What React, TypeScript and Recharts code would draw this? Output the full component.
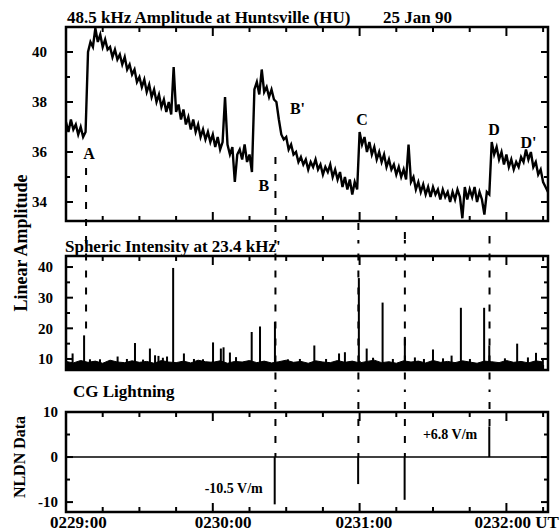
import {
  Area,
  Bar,
  ComposedChart,
  LabelList,
  Line,
  ReferenceArea,
  ReferenceDot,
  ReferenceLine,
  XAxis,
  YAxis
} from "recharts";

const SERIF = '"Liberation Serif", "Times New Roman", Times, serif';
const INK = "#000";
const SPAN: [number, number] = [0, 197];
const frame = { stroke: INK, strokeWidth: 2 };

// 48.5 kHz amplitude, one reading per second from 0229:00
const ampValues = [
  37.2, 36.8, 37.3, 36.9, 37.1, 36.7, 37.0, 36.6, 36.8, 40.0,
  40.4, 40.2, 40.95, 40.4, 40.7, 40.2, 40.5, 40.1, 40.2, 39.8,
  40.1, 39.7, 39.9, 39.5, 39.8, 39.3, 39.5, 39.1, 39.3, 38.8,
  39.0, 38.6, 38.9, 38.4, 38.7, 38.2, 38.5, 38.0, 38.3, 37.8,
  38.1, 37.6, 38.0, 37.5, 39.4, 37.6, 37.9, 37.3, 37.7, 37.1,
  37.4, 36.9, 37.3, 36.8, 37.1, 36.6, 36.9, 36.5, 36.8, 36.4,
  36.7, 36.2, 36.6, 36.1, 36.4, 38.2, 36.3, 35.9, 36.2, 34.8,
  35.9, 36.1, 35.7, 36.3, 35.6, 35.9, 35.2, 38.5, 38.8, 38.3,
  39.3, 38.4, 38.6, 38.2, 38.5, 38.1, 38.0, 37.3, 36.7, 36.5,
  36.6, 36.1, 36.3, 35.9, 36.0, 35.6, 35.8, 35.5, 35.7, 35.3,
  35.6, 35.4, 35.7, 35.3, 35.5, 35.1, 35.4, 35.2, 35.5, 35.0,
  35.3, 34.9, 35.2, 34.6, 35.0, 34.5, 34.9, 34.3, 34.8, 34.5,
  36.8, 36.3, 36.6, 36.0, 36.4, 35.9, 36.2, 35.7, 36.0, 35.6,
  35.9, 35.4, 35.7, 35.3, 35.5, 35.1, 35.4, 35.0, 35.3, 34.9,
  36.3, 34.8, 35.0, 34.5, 34.8, 34.4, 34.7, 34.3, 34.6, 34.2,
  34.6, 34.3, 34.5, 34.1, 34.5, 34.2, 34.4, 34.0, 34.4, 34.1,
  34.5, 34.2, 33.35, 34.6, 34.1, 34.5, 34.2, 34.6, 34.0, 34.4,
  34.1, 33.5, 34.4, 34.3, 36.4, 35.9, 36.2, 35.7, 36.0, 35.5,
  35.9, 35.4, 35.7, 35.3, 35.6, 35.4, 35.8, 35.6, 36.1, 35.7,
  36.0, 35.4, 35.6, 35.1, 35.3, 34.8, 34.6, 34.4
];
const ampRows = ampValues.map((v, i) => ({ t: i, v }));

// spheric intensity at 23.4 kHz: isolated spikes plus the noise floor (every 3 s)
const spikeTimes = [
  2.7, 7.4, 9.8, 13.9, 21.1, 24.9, 28.2, 31.5, 34.3, 36.4, 37.8, 39.6, 41.3, 43.8,
  48.2, 52.3, 56, 60.1, 63.3, 64.4, 67, 69.5, 75.9, 79.3, 85.4, 90.7, 95.6, 101.5,
  106.3, 111.6, 114, 119.7, 122.9, 125.5, 129.4, 133.6, 138.5, 142.6, 146.3,
  150, 154.1, 157.6, 161.4, 165.1, 170.9, 173, 179.4, 184.4, 188.8, 192.1, 194.9
];
const spikeValues = [
  11.8, 17.7, 9.9, 9.9, 10.8, 10.0, 15.2, 9.8, 13.4, 11.2, 11.0, 10.4, 10.8, 39.7,
  11.8, 10.0, 9.9, 15.4, 13.4, 13.8, 12.1, 10.6, 18.8, 20.6, 22.1, 9.9, 10.0, 14.4,
  10.0, 11.8, 12.2, 36.4, 13.4, 10.4, 28.4, 10.0, 17.2, 10.5, 10.0,
  13.1, 10.2, 11.1, 26.7, 10.0, 26.7, 14.4, 10.2, 15.0, 10.5, 12.0, 10.2
];
const floorValues = [
  9.2, 8.7, 9.5, 8.9, 9.3, 8.6, 9.6, 9.0, 8.8, 9.4,
  8.9, 9.2, 8.6, 9.5, 9.0, 8.8, 9.3, 8.7, 9.6, 9.1,
  8.9, 9.4, 8.6, 9.2, 9.0, 9.5, 8.8, 9.3, 8.7, 9.1,
  9.6, 8.9, 9.2, 8.6, 9.4, 9.0, 8.8, 9.5, 8.9, 9.3,
  8.7, 9.2, 9.6, 8.8, 9.1, 8.6, 9.4, 9.0, 9.3, 8.7,
  9.5, 8.9, 9.2, 8.8, 9.4, 9.0, 8.6, 9.3, 9.1, 8.8,
  9.5, 8.9, 9.2, 8.7, 9.4, 9.0
];
const spikeRows = spikeTimes.map((t, i) => ({ t, v: spikeValues[i] }));
const floorRows = floorValues.map((v, i) => ({ t: i * 3, v }));

// NLDN cloud-to-ground flashes
const cgTimes = [85.4, 119.5, 138.5, 173.1];
const cgValues = [-10.5, -6.0, -9.5, 6.8];
const cgNotes = ["-10.5 V/m", "", "", "+6.8 V/m"];
const cgRows = cgTimes.map((t, i) => ({ t, v: cgValues[i], note: cgNotes[i] }));

// event letters on the amplitude trace
const letters = ["A", "B", "B'", "C", "D", "D'"];
const letterTimes = [9.4, 80.9, 94.6, 121, 174.9, 189];
const letterLevels = [35.96, 34.68, 37.76, 37.32, 36.92, 36.4];

// dashed markers carried down through the three panels
const markTimes = [8.2, 85.6, 119.5, 138.5, 173.1];
const markTopFrom = [35.36, 35.8, 33.16, 32.8, 32.64];
const markMidTo = [17.7, -5, -5, -5, -5];
const markLowTo = [null, 0, 0, 0, 6.8];

const xTicks = [0, 15, 30, 45, 60, 75, 90, 105, 120, 135, 150, 165, 180, 195];
const clockLabels: Record<number, string> = {
  0: "0229:00",
  60: "0230:00",
  120: "0231:00",
  180: "0232:00 UT"
};
const clockShift: Record<number, number> = { 0: -16, 60: -18, 120: -24, 180: -32 };

const ampTicks = [34, 35, 36, 37, 38, 39, 40];
const sphericTicks = [10, 15, 20, 25, 30, 35, 40];
const cgTicks = [-10, -5, 0, 5, 10];

function xTick(side: "top" | "bottom", withLabels: boolean) {
  return (p: any) => {
    const t = Number(p.payload.value);
    const x = Number(p.x);
    const y = Number(p.y);
    const major = t % 60 === 0;
    const len = major ? 9 : 5;
    const label = withLabels ? clockLabels[t] : undefined;
    return (
      <g>
        <path d={`M${x},${y}V${side === "bottom" ? y - len : y + len}`} stroke={INK} strokeWidth={2} fill="none" />
        {label && (
          <text
            x={x + clockShift[t]}
            y={y + 16}
            fontFamily={SERIF}
            fontWeight="bold"
            fontSize={17}
            fill={INK}
          >
            {label}
          </text>
        )}
      </g>
    );
  };
}

function yTick(side: "left" | "right", every: number, gap: number) {
  return (p: any) => {
    const v = Number(p.payload.value);
    const x = Number(p.x);
    const y = Number(p.y);
    const major = Math.abs(v % every) < 1e-9;
    const len = major ? 7 : 4;
    return (
      <g>
        <path d={`M${x},${y}H${side === "left" ? x + len : x - len}`} stroke={INK} strokeWidth={2} fill="none" />
        {side === "left" && major && (
          <text
            x={x - gap}
            y={y}
            dy="0.36em"
            textAnchor="end"
            fontFamily={SERIF}
            fontWeight="bold"
            fontSize={15}
            fill={INK}
          >
            {v}
          </text>
        )}
      </g>
    );
  };
}

function frameAxes(
  yDomain: [number, number],
  yTicks: number[],
  every: number,
  gap: number,
  xLabels: boolean
) {
  return [
    <XAxis
      key="xb"
      dataKey="t"
      type="number"
      domain={SPAN}
      ticks={xTicks}
      interval={0}
      allowDataOverflow
      height={1}
      tickSize={0}
      tickMargin={0}
      tickLine={false}
      axisLine={frame}
      tick={xTick("bottom", xLabels)}
    />,
    <XAxis
      key="xt"
      xAxisId="top"
      orientation="top"
      dataKey="t"
      type="number"
      domain={SPAN}
      ticks={xTicks}
      interval={0}
      allowDataOverflow
      height={1}
      tickSize={0}
      tickMargin={0}
      tickLine={false}
      axisLine={frame}
      tick={xTick("top", false)}
    />,
    <YAxis
      key="yl"
      type="number"
      domain={yDomain}
      ticks={yTicks}
      interval={0}
      allowDataOverflow
      width={66}
      tickSize={0}
      tickMargin={0}
      tickLine={false}
      axisLine={frame}
      tick={yTick("left", every, gap)}
    />,
    <YAxis
      key="yr"
      yAxisId="r"
      orientation="right"
      type="number"
      domain={yDomain}
      ticks={yTicks}
      interval={0}
      allowDataOverflow
      width={1}
      tickSize={0}
      tickMargin={0}
      tickLine={false}
      axisLine={frame}
      tick={yTick("right", every, gap)}
    />,
    <ReferenceArea
      key="box"
      x1={SPAN[0]}
      x2={SPAN[1]}
      y1={yDomain[0]}
      y2={yDomain[1]}
      fill="none"
      stroke={INK}
      strokeWidth={2.5}
      ifOverflow="visible"
    />
  ];
}

const dash = { stroke: INK, strokeWidth: 2, strokeDasharray: "7 10" };

// draws every spike / flash as a 2px stroke centred on its time
function thinBar(p: any) {
  const x = Number(p.x) + Number(p.width) / 2;
  const y = Number(p.y);
  const h = Number(p.height);
  return <rect x={x - 1} y={Math.min(y, y + h)} width={2} height={Math.abs(h)} fill={INK} />;
}

function renderNote(p: any) {
  const { x, y, width, height, value, index } = p;
  if (!value) return null;
  const cx = Number(x) + Number(width) / 2;
  const top = Math.min(Number(y), Number(y) + Number(height));
  const bottom = Math.max(Number(y), Number(y) + Number(height));
  const neg = cgValues[index] < 0;
  return (
    <text
      x={cx - 12}
      y={neg ? bottom - 11 : top + 13}
      textAnchor="end"
      fontFamily={SERIF}
      fontWeight="bold"
      fontSize={14}
      fill={INK}
    >
      {value}
    </text>
  );
}

const textStyle = { fontFamily: SERIF, fontWeight: "bold" as const, fill: INK };

export default function App() {
  return (
    <div style={{ position: "absolute", left: 0, top: 0, width: 560, height: 531, background: "#fff" }}>
      <div style={{ position: "absolute", left: 0, top: 0 }}>
        <ComposedChart width={560} height={240} data={ampRows} margin={{ top: 26, right: 11, bottom: 18, left: 0 }}>
          {frameAxes([33.24, 41], ampTicks, 2, 19, false)}
          <Line
            dataKey="v"
            type="linear"
            stroke={INK}
            strokeWidth={2.4}
            dot={false}
            activeDot={false}
            isAnimationActive={false}
          />
          {markTimes.map((t, i) => (
            <ReferenceLine
              key={`mt${i}`}
              segment={[{ x: t, y: markTopFrom[i] }, { x: t, y: 32 }]}
              ifOverflow="visible"
              {...dash}
            />
          ))}
          {letters.map((l, i) => (
            <ReferenceDot
              key={l}
              x={letterTimes[i]}
              y={letterLevels[i]}
              r={0}
              fill="none"
              stroke="none"
              ifOverflow="visible"
              label={{ value: l, position: "center", fontSize: 16, ...textStyle }}
            />
          ))}
        </ComposedChart>
      </div>

      <div style={{ position: "absolute", left: 0, top: 240 }}>
        <ComposedChart width={560} height={150} data={spikeRows} margin={{ top: 15, right: 11, bottom: 19, left: 0 }}>
          {frameAxes([6.4, 43.6], sphericTicks, 10, 13, false)}
          <Area
            data={floorRows}
            dataKey="v"
            type="linear"
            stroke={INK}
            strokeWidth={1}
            fill={INK}
            fillOpacity={1}
            dot={false}
            activeDot={false}
            isAnimationActive={false}
          />
          <Bar dataKey="v" barSize={2} fill={INK} shape={thinBar} isAnimationActive={false} />
          {markTimes.map((t, i) => (
            <ReferenceLine
              key={`mm${i}`}
              segment={[{ x: t, y: 50 }, { x: t, y: markMidTo[i] }]}
              ifOverflow="visible"
              {...dash}
            />
          ))}
        </ComposedChart>
      </div>

      <div style={{ position: "absolute", left: 0, top: 390 }}>
        <ComposedChart width={560} height={141} data={cgRows} margin={{ top: 21, right: 11, bottom: 18, left: 0 }}>
          {frameAxes([-12.2, 10], cgTicks, 10, 8, true)}
          <ReferenceLine y={0} stroke={INK} strokeWidth={1.6} />
          <Bar dataKey="v" barSize={2} fill={INK} shape={thinBar} isAnimationActive={false}>
            <LabelList dataKey="note" content={renderNote} />
          </Bar>
          {markTimes.map((t, i) =>
            markLowTo[i] === null ? null : (
              <ReferenceLine
                key={`ml${i}`}
                segment={[{ x: t, y: 16 }, { x: t, y: markLowTo[i] as number }]}
                ifOverflow="visible"
                {...dash}
              />
            )
          )}
        </ComposedChart>
      </div>

      <svg
        width={560}
        height={531}
        style={{ position: "absolute", left: 0, top: 0, pointerEvents: "none" }}
      >
        <text x={67} y={23} fontSize={17} {...textStyle}>
          48.5 kHz Amplitude at Huntsville (HU)
        </text>
        <text x={383} y={23} fontSize={17} {...textStyle}>
          25 Jan 90
        </text>
        <text x={65} y={252} fontSize={17} {...textStyle}>
          Spheric Intensity at 23.4 kHz'
        </text>
        <text x={73} y={397} fontSize={17} {...textStyle}>
          CG Lightning
        </text>
        <text
          transform="translate(21,243) rotate(-90)"
          textAnchor="middle"
          dominantBaseline="central"
          fontSize={18}
          {...textStyle}
        >
          Linear Amplitude
        </text>
        <text
          transform="translate(19,457) rotate(-90)"
          textAnchor="middle"
          dominantBaseline="central"
          fontSize={16}
          {...textStyle}
        >
          NLDN Data
        </text>
      </svg>
    </div>
  );
}
